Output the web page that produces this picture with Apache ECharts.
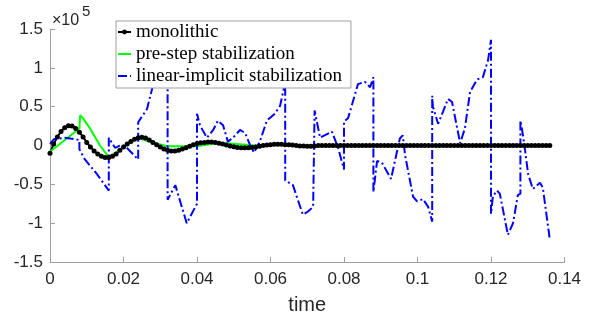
<!DOCTYPE html>
<html>
<head>
<meta charset="utf-8">
<script src="https://cdn.jsdelivr.net/npm/echarts@6/dist/echarts.min.js"></script>
<style>
  html, body { margin: 0; padding: 0; background: #fff; }
  #chart { width: 592px; height: 320px; }
</style>
</head>
<body>
<div id="chart"></div>
<script>
// values in units of 1e5
const monoStep = 0.001
const monoValues = [
  -0.10, 0.02, 0.11, 0.18, 0.23, 0.255, 0.25, 0.22, 0.17, 0.11,
  0.04, -0.02, -0.07, -0.11, -0.14, -0.155, -0.155, -0.14, -0.11, -0.06,
  -0.02, 0.02, 0.05, 0.08, 0.10, 0.105, 0.095, 0.07, 0.04, 0.01,
  -0.02, -0.045, -0.06, -0.07, -0.07, -0.06, -0.045, -0.03, -0.01, 0.01,
  0.025, 0.035, 0.04, 0.045, 0.045, 0.04, 0.03, 0.02, 0.005, -0.005,
  -0.015, -0.025, -0.03, -0.03, -0.03, -0.025, -0.02, -0.01, 0, 0.005,
  0.01, 0.015, 0.015, 0.015, 0.01, 0.01, 0.005, 0, -0.005, -0.005,
  -0.01, -0.01, -0.005, 0, 0, 0, 0, 0, 0, 0,
  0, 0, 0, 0, 0, 0, 0, 0, 0, 0,
  0, 0, 0, 0, 0, 0, 0, 0, 0, 0,
  0, 0, 0, 0, 0, 0, 0, 0, 0, 0,
  0, 0, 0, 0, 0, 0, 0, 0, 0, 0,
  0, 0, 0, 0, 0, 0, 0, 0, 0, 0,
  0, 0, 0, 0, 0, 0, 0
]

const preT = [0, 0.008, 0.0082, 0.009, 0.0109, 0.0136, 0.016, 0.024, 0.027, 0.032,
  0.040, 0.046, 0.056, 0.064, 0.072, 0.136]
const preV = [-0.08, 0.22, 0.39, 0.35, 0.22, 0.0, -0.15, 0.1, 0.05, -0.01,
  -0.01, 0.035, 0.0, 0.01, 0.0, 0.0]

const linT = [
  0, 0.001, 0.004, 0.007, 0.008, 0.008, 0.0095, 0.0128, 0.016,
  0.016, 0.0177, 0.0196, 0.0207, 0.024,
  0.024, 0.0264, 0.028, 0.030, 0.032,
  0.032, 0.0341, 0.0372, 0.040,
  0.040, 0.0408, 0.0427, 0.0444, 0.0457, 0.0471, 0.0484, 0.0498, 0.0517, 0.0531,
  0.0544, 0.0555, 0.0571, 0.059, 0.0612, 0.0626, 0.0637, 0.064,
  0.064, 0.0661, 0.0688, 0.0702, 0.0716, 0.072,
  0.072, 0.0735, 0.0767, 0.0784, 0.080,
  0.080, 0.0811, 0.0838, 0.0857, 0.0871, 0.088,
  0.088, 0.089, 0.0903, 0.0928, 0.0952, 0.096, 0.0966, 0.0988, 0.0999, 0.1015,
  0.1029, 0.104,
  0.104, 0.1042, 0.1056, 0.1069, 0.1083, 0.1094, 0.1116, 0.1129, 0.1143, 0.1162,
  0.1178, 0.1192, 0.120,
  0.120, 0.1205, 0.1216, 0.1224, 0.1246, 0.126, 0.1273, 0.128,
  0.128, 0.1284, 0.1293, 0.1301, 0.1314, 0.1333, 0.1341, 0.136
]
const linV = [
  0.02, 0.08, 0.1, 0.08, 0.07, -0.05, -0.18, -0.37, -0.58,
  0.1, -0.03, 0.01, -0.02, -0.18,
  0.3, 0.47, 0.77, 1.05, 1.3,
  -0.7, -0.51, -1.0, -0.75,
  0.41, 0.26, 0.1, 0.2, 0.32, 0.26, 0.05, 0.1, 0.2, 0.16,
  0.01, -0.09, 0.05, 0.32, 0.41, 0.51, 0.75, 0.95,
  -0.45, -0.51, -0.89, -0.85, -0.79, -0.8,
  0.45, 0.1, 0.18, -0.03, -0.31,
  0.31, 0.35, 0.79, 0.82, 0.75, 0.88,
  -0.6, -0.2, -0.22, -0.43, 0.09, 0.13, -0.12, -0.66, -0.72, -0.69,
  -0.79, -0.98,
  0.64, 0.5, 0.28, 0.43, 0.6, 0.56, 0.03, 0.22, 0.69, 0.85,
  0.88, 1.1, 1.36,
  -0.88, -0.66, -0.58, -0.62, -1.15, -1.0, -0.64, -0.62,
  0.32, 0.22, -0.07, -0.37, -0.56, -0.48, -0.54, -1.21
]

const xTicks = { min: 0, max: 0.14, interval: 0.02 }
const yTicks = { min: -1.5, max: 1.5, interval: 0.5 }

const axisGray = "#a0a0a0"
const labelColor = "#262626"
const sans = "'Liberation Sans', Arial, sans-serif"
const serif = "'Liberation Serif', 'Times New Roman', serif"

const pairs = (ts, vs) => ts.map((t, i) => [t, vs[i]])
const monoData = monoValues.map((v, i) => [+(i * monoStep).toFixed(4), v])

const chart = echarts.init(document.getElementById("chart"))

chart.setOption({
  animation: false,
  backgroundColor: "#fff",
  grid: { left: 50, right: 27.5, top: 29, bottom: 54 },
  graphic: [
    { type: "text", left: 52, top: 13,
      style: { text: "×10", font: "16px " + sans, fill: labelColor } },
    { type: "text", left: 82, top: 4,
      style: { text: "5", font: "15px " + sans, fill: labelColor } }
  ],
  legend: {
    orient: "vertical",
    left: 116,
    top: 21,
    padding: [0, 9, 1, 1],
    itemWidth: 13,
    itemHeight: 6,
    itemGap: 0,
    backgroundColor: "#fff",
    borderColor: "#a0a0a0",
    borderWidth: 1,
    borderRadius: 0,
    textStyle: { fontFamily: serif, fontSize: 19, lineHeight: 22, color: "#000" },
    data: [
      { name: "monolithic" },
      { name: "pre-step stabilization", itemStyle: { opacity: 0 } },
      { name: "linear-implicit stabilization", itemStyle: { opacity: 0 } }
    ]
  },
  xAxis: {
    type: "value",
    ...xTicks,
    name: "time",
    nameLocation: "middle",
    nameGap: 33,
    nameTextStyle: { fontFamily: sans, fontSize: 20, color: labelColor },
    axisLine: { onZero: false, lineStyle: { color: axisGray, width: 1 } },
    axisTick: { inside: true, length: 5, lineStyle: { color: axisGray } },
    axisLabel: {
      margin: 9, fontFamily: sans, fontSize: 17, color: labelColor,
      formatter: v => String(Number(v.toFixed(2)))
    },
    splitLine: { show: false }
  },
  yAxis: {
    type: "value",
    ...yTicks,
    axisLine: { show: true, onZero: false, lineStyle: { color: axisGray, width: 1 } },
    axisTick: { show: true, inside: true, length: 5, lineStyle: { color: axisGray } },
    axisLabel: {
      margin: 7, fontFamily: sans, fontSize: 17, color: labelColor,
      formatter: v => String(Number(v.toFixed(1)))
    },
    splitLine: { show: false }
  },
  series: [
    {
      name: "monolithic",
      type: "line",
      data: monoData,
      symbol: "circle",
      symbolSize: 5,
      showSymbol: true,
      itemStyle: { color: "#000" },
      lineStyle: { color: "#000", width: 2 }
    },
    {
      name: "pre-step stabilization",
      type: "line",
      data: pairs(preT, preV),
      showSymbol: false,
      symbol: "none",
      itemStyle: { color: "#00ff00" },
      lineStyle: { color: "#00ff00", width: 2 }
    },
    {
      name: "linear-implicit stabilization",
      type: "line",
      data: pairs(linT, linV),
      showSymbol: false,
      symbol: "none",
      itemStyle: { color: "#0000ff" },
      lineStyle: { color: "#0000ff", width: 2, type: [9, 3, 2, 3] }
    }
  ]
})
</script>
</body>
</html>
